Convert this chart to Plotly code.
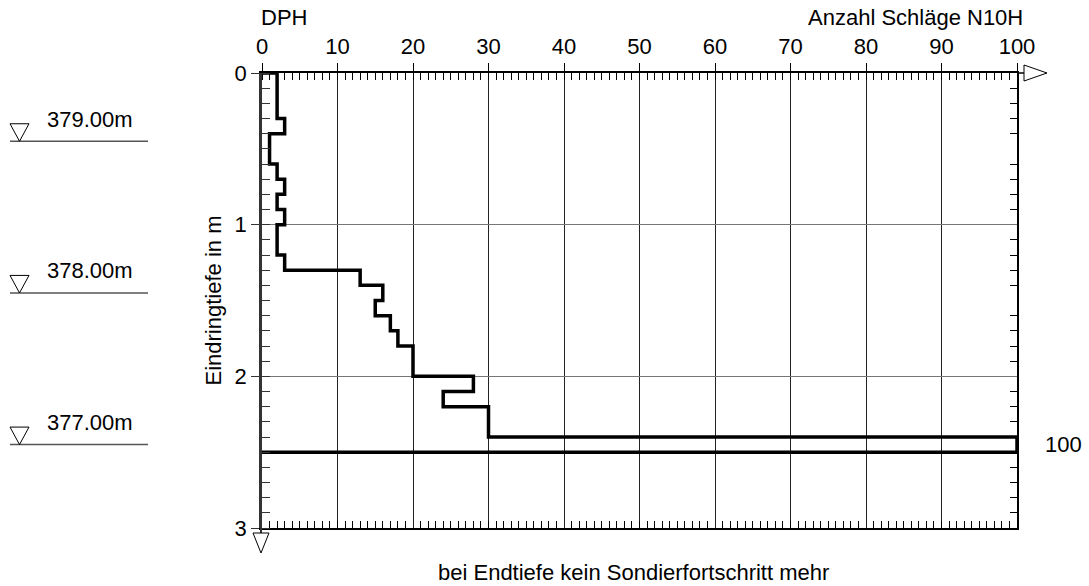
import plotly.graph_objects as go

# ---- data ----
blows = [2, 2, 2, 3, 1, 1, 2, 3, 2, 3, 2, 2, 3, 13, 16, 15, 17, 18, 20, 20, 28, 24, 30, 30, 100]
step = 0.1
end_depth = 2.5
top_elevation = 379.45
levels = [379.00, 378.00, 377.00]
level_labels = ["379.00m", "378.00m", "377.00m"]
x_ticks = list(range(0, 101, 10))
y_ticks = [0, 1, 2, 3]

FONT = "Liberation Sans, Arial, sans-serif"
FS = 22

W, H = 1089, 586
ML, MR, MT, MB = 262, 72, 73, 58
PW, PH = W - ML - MR, H - MT - MB


def px_x(p):
    return (p - ML) / PW


def px_y(p):
    return (H - MB - p) / PH


depths = [round(i * step, 3) for i in range(len(blows))]
xs = [0] + blows + [0]
ys = [0] + depths + [end_depth]

fig = go.Figure()
fig.add_trace(go.Scatter(x=xs, y=ys, mode="lines", line=dict(color="black", width=3.5, shape="vh"),
                         hoverinfo="skip", showlegend=False))
fig.add_trace(go.Scatter(x=[0], y=[0], xaxis="x2", yaxis="y2", mode="markers",
                         marker=dict(opacity=0), showlegend=False, hoverinfo="skip"))

fig.update_layout(
    width=W, height=H,
    margin=dict(l=ML, r=MR, t=MT, b=MB, pad=0),
    paper_bgcolor="white", plot_bgcolor="white",
    font=dict(family=FONT, size=FS, color="black"),
    showlegend=False,
    xaxis=dict(side="top", range=[0, 100], tickvals=x_ticks, ticks="outside", ticklen=8,
               tickcolor="black", tickwidth=1, showgrid=True, gridcolor="#222", gridwidth=1,
               showline=True, linecolor="black", linewidth=1.5, zeroline=False,
               tickfont=dict(size=FS), anchor="y",
               minor=dict(dtick=1, ticks="inside", ticklen=7, tickcolor="black", tickwidth=1, showgrid=False)),
    xaxis2=dict(side="bottom", overlaying="x", matches="x", range=[0, 100], anchor="y2",
                showticklabels=False, ticks="", showgrid=False, zeroline=False,
                showline=True, linecolor="black", linewidth=1.5,
                minor=dict(dtick=1, ticks="inside", ticklen=7, tickcolor="black", tickwidth=1, showgrid=False)),
    yaxis=dict(range=[3, 0], tickvals=y_ticks, ticks="outside", ticklen=8, tickcolor="#333",
               tickwidth=1, showgrid=True, gridcolor="#777", gridwidth=1,
               showline=True, linecolor="#333", linewidth=2.5, zeroline=False, anchor="x",
               tickfont=dict(size=FS),
               minor=dict(dtick=0.1, ticks="inside", ticklen=8, tickcolor="#333", tickwidth=1, showgrid=False)),
    yaxis2=dict(side="right", overlaying="y", matches="y", range=[3, 0], anchor="x2",
                showticklabels=False, ticks="", showgrid=False, zeroline=False,
                showline=True, linecolor="black", linewidth=1.5,
                minor=dict(dtick=0.1, ticks="inside", ticklen=7, tickcolor="black", tickwidth=1, showgrid=False)),
)

shapes = []
annotations = []

# elevation markers on the left
for lev, lab in zip(levels, level_labels):
    d = top_elevation - lev
    shapes.append(dict(type="line", xref="paper", yref="y", x0=px_x(10), x1=px_x(148), y0=d, y1=d,
                       line=dict(color="#555", width=1.5)))
    th = 17.5 / (PH / 3)
    shapes.append(dict(type="path", xref="paper", yref="y",
                       path=f"M {px_x(10)},{d - th} L {px_x(29)},{d - th} L {px_x(19.5)},{d} Z",
                       line=dict(color="black", width=1), fillcolor="rgba(0,0,0,0)"))
    annotations.append(dict(text=lab, xref="paper", yref="y", x=px_x(45), y=d, xanchor="left",
                            yanchor="middle", yshift=22, showarrow=False, font=dict(size=FS)))

# axis arrows
shapes.append(dict(type="line", xref="paper", yref="paper", x0=1.0, x1=px_x(1024), y0=1, y1=1,
                   line=dict(color="black", width=1.5)))
shapes.append(dict(type="path", xref="paper", yref="paper",
                   path=f"M {px_x(1024)},{px_y(65)} L {px_x(1047)},{px_y(73)} L {px_x(1024)},{px_y(81)} Z",
                   line=dict(color="black", width=1), fillcolor="white"))
shapes.append(dict(type="line", xref="paper", yref="paper", x0=px_x(261), x1=px_x(261), y0=0, y1=px_y(533),
                   line=dict(color="#333", width=2)))
shapes.append(dict(type="path", xref="paper", yref="paper",
                   path=f"M {px_x(253)},{px_y(533)} L {px_x(269)},{px_y(533)} L {px_x(261)},{px_y(553)} Z",
                   line=dict(color="black", width=1), fillcolor="white"))

annotations += [
    dict(text="DPH", xref="paper", yref="paper", x=px_x(259), y=px_y(18), xanchor="left",
         yanchor="middle", showarrow=False, font=dict(size=FS)),
    dict(text="Anzahl Schläge N10H", xref="paper", yref="paper", x=px_x(1025), y=px_y(18),
         xanchor="right", yanchor="middle", showarrow=False, font=dict(size=FS)),
    dict(text="Eindringtiefe in m", xref="paper", yref="paper", x=px_x(213), y=0.5, textangle=-90,
         xanchor="center", yanchor="middle", showarrow=False, font=dict(size=FS)),
    dict(text="bei Endtiefe kein Sondierfortschritt mehr", xref="paper", yref="paper", x=px_x(633),
         y=px_y(572), xanchor="center", yanchor="middle", showarrow=False, font=dict(size=FS),
         borderpad=0),
    dict(text=str(blows[-1]), xref="paper", yref="y", x=px_x(1043), y=depths[-1] + step / 2,
         xanchor="left", yanchor="middle", showarrow=False, font=dict(size=FS)),
]

fig.update_layout(shapes=shapes, annotations=annotations)
fig.write_html("out.html")
